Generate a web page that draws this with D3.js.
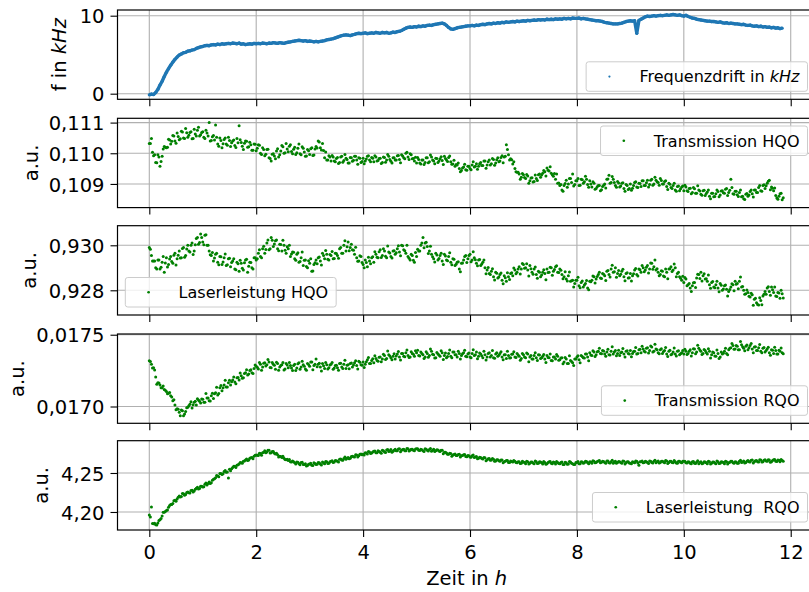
<!DOCTYPE html>
<html><head><meta charset="utf-8">
<script src="https://cdn.jsdelivr.net/npm/d3@7"></script>
<style>
body{margin:0;background:#fff}
svg{display:block}
text{font-family:"DejaVu Sans",sans-serif;fill:#000;white-space:pre}
</style>
</head><body>
<svg id="chart" width="809" height="592"></svg>
<script>
// ---------- DATA ----------
const timeStep = 0.04;     // h between samples of one array
const midOffset = 0.02;    // the "...Mid" arrays are sampled half a step later

const frequenzdrift = [ // kHz, t = 0, 0.04, 0.08 ...
-0.15,-0.05,-0.10,0.15,0.55,1.10,1.60,2.20,2.75,3.20,3.65,4.05,4.40,4.70,4.95,5.10,5.25,5.30,5.45,5.50,5.60,5.65,5.80,5.90,6.00,
6.05,6.15,6.20,6.15,6.25,6.30,6.25,6.35,6.30,6.40,6.35,6.40,6.45,6.40,6.50,6.45,6.40,6.50,6.35,6.40,6.30,6.35,6.40,6.35,6.45,
6.40,6.45,6.40,6.50,6.45,6.40,6.50,6.45,6.55,6.50,6.45,6.55,6.50,6.45,6.55,6.60,6.65,6.70,6.75,6.80,6.85,6.80,6.75,6.80,6.70,
6.75,6.70,6.65,6.70,6.65,6.70,6.75,6.80,6.90,6.95,7.00,7.05,7.15,7.25,7.35,7.45,7.50,7.55,7.50,7.45,7.55,7.60,7.70,7.75,7.70,
7.75,7.80,7.70,7.75,7.80,7.75,7.85,7.80,7.75,7.85,7.80,7.85,7.75,7.80,7.90,7.85,7.95,8.00,8.10,8.25,8.40,8.50,8.55,8.50,8.60,
8.55,8.65,8.60,8.70,8.65,8.75,8.80,8.75,8.85,8.90,8.95,9.00,9.05,8.95,8.75,8.50,8.30,8.25,8.35,8.45,8.50,8.55,8.60,8.65,8.70,
8.70,8.75,8.70,8.80,8.75,8.85,8.90,8.85,8.95,9.00,8.95,9.05,9.00,9.10,9.05,9.15,9.10,9.20,9.15,9.20,9.25,9.20,9.30,9.25,9.30,
9.35,9.30,9.40,9.35,9.40,9.45,9.40,9.50,9.45,9.50,9.45,9.55,9.50,9.55,9.50,9.60,9.55,9.60,9.55,9.65,9.60,9.65,9.60,9.70,9.65,
9.65,9.70,9.60,9.65,9.60,9.55,9.50,9.45,9.40,9.35,9.35,9.30,9.25,9.15,9.10,9.05,9.00,8.95,8.95,8.95,9.00,9.05,9.15,9.25,9.30,
9.35,9.30,9.35,7.75,9.40,9.55,9.70,9.85,9.95,9.90,9.95,10.00,9.95,10.00,10.05,10.00,10.05,10.10,10.05,10.10,10.15,10.10,10.05,10.10,10.00,
9.95,10.05,9.90,9.80,9.70,9.65,9.55,9.50,9.45,9.40,9.35,9.30,9.30,9.25,9.25,9.20,9.15,9.20,9.10,9.05,9.10,9.00,9.05,9.00,8.95,
8.95,8.90,8.85,8.90,8.80,8.75,8.80,8.70,8.65,8.70,8.60,8.65,8.55,8.60,8.50,8.55,8.45,8.50,8.40,8.45,8.35,8.40];

const transmissionHQO = [
.11032,.11048,.10992,.10970,.10995,.10958,.10990,.11022,.11018,.11046,.11030,.11058,.11040,.11066,.11044,.11072,.11050,.11081,.11052,.11068,.11047,.11078,.11056,.11085,.11060,
.11070,.11048,.11066,.11100,.11042,.11058,.11092,.11030,.11050,.11018,.11045,.11030,.11052,.11022,.11040,.11025,.11048,.11090,.11035,.11012,.11040,.11020,.11036,.11010,.11030,
.11008,.11028,.11000,.11018,.10992,.11012,.10985,.10975,.10998,.10982,.11015,.10995,.11025,.11000,.11032,.11005,.11028,.10998,.11020,.11002,.11030,.10995,.11016,.10990,.11012,
.10996,.11018,.10994,.11022,.11040,.11018,.11032,.10985,.10978,.10992,.10975,.10988,.10972,.10986,.10970,.10990,.10976,.10984,.10968,.10986,.10974,.10990,.10978,.10985,.10970,
.10984,.10975,.10990,.10978,.10986,.10972,.10988,.10976,.10984,.10970,.10986,.10978,.10990,.10974,.10985,.10978,.10992,.10980,.10995,.10985,.11000,.10988,.10998,.10982,.10975,
.10968,.10980,.10965,.10978,.10970,.10985,.10972,.10988,.10975,.10984,.10970,.10982,.10976,.10990,.10978,.10986,.10972,.10965,.10958,.10962,.10950,.10944,.10955,.10946,.10958,
.10950,.10962,.10955,.10966,.10958,.10970,.10960,.10975,.10962,.10978,.10966,.10980,.10968,.10985,.10975,.10992,.10988,.11028,.10995,.10982,.10965,.10950,.10938,.10932,.10922,
.10930,.10918,.10926,.10910,.10920,.10908,.10918,.10930,.10922,.10935,.10940,.10952,.10942,.10935,.10925,.10915,.10902,.10895,.10880,.10895,.10912,.10900,.10918,.10932,.10898,
.10910,.10895,.10915,.10902,.10925,.10898,.10910,.10890,.10902,.10885,.10895,.10878,.10892,.10900,.10915,.10928,.10905,.10915,.10895,.10908,.10890,.10902,.10885,.10898,.10882,
.10900,.10886,.10905,.10890,.10902,.10892,.10910,.10895,.10912,.10898,.10915,.10900,.10912,.10905,.10918,.10900,.10908,.10892,.10902,.10888,.10895,.10880,.10892,.10878,.10890,
.10878,.10890,.10875,.10886,.10872,.10884,.10870,.10880,.10866,.10878,.10862,.10874,.10860,.10870,.10858,.10868,.10875,.10864,.10878,.10870,.10885,.10872,.10915,.10868,.10876,
.10865,.10872,.10858,.10852,.10866,.10860,.10875,.10868,.10880,.10872,.10888,.10878,.10895,.10885,.10902,.10912,.10890,.10878,.10862,.10850,.10868,.10848];
const transmissionHQOMid = [
.11032,.11003,.10995,.10969,.10988,.10973,.11014,.11020,.11020,.11043,.11039,.11056,.11033,.11055,.11047,.11069,.11048,.11067,.11059,.11070,.11048,.11063,.11075,.11056,.11068,
.11052,.11075,.11056,.11040,.11054,.11043,.11052,.11023,.11042,.11031,.11050,.11026,.11042,.11034,.11043,.11019,.11034,.11044,.11023,.11033,.11039,.11021,.11028,.11010,.11029,
.11016,.11026,.10996,.11012,.10997,.11013,.10983,.10997,.10991,.11007,.10988,.11007,.11021,.11002,.11014,.11023,.11006,.11013,.10996,.11016,.10998,.11021,.11004,.10991,.11008,
.11015,.10993,.11014,.11017,.11037,.11011,.11009,.11004,.10978,.10988,.10993,.10975,.10983,.10967,.10988,.10971,.10996,.10980,.10968,.10985,.10977,.10990,.10964,.10984,.10973,
.10966,.10981,.10992,.10972,.10984,.10992,.10975,.10983,.10967,.10988,.10971,.10996,.10980,.10968,.10985,.10978,.10993,.10969,.10991,.10982,.11003,.10980,.10995,.10983,.10987,
.10986,.10968,.10978,.10963,.10985,.10969,.10994,.10978,.10966,.10983,.10975,.10989,.10963,.10983,.10973,.10991,.10964,.10977,.10963,.10968,.10940,.10952,.10964,.10945,.10958,
.10946,.10972,.10958,.10948,.10966,.10960,.10975,.10951,.10972,.10962,.10983,.10961,.10979,.10972,.10986,.10969,.10990,.11012,.10978,.10979,.10972,.10940,.10938,.10915,.10934,
.10921,.10931,.10902,.10919,.10906,.10929,.10911,.10932,.10929,.10944,.10926,.10945,.10956,.10930,.10934,.10932,.10903,.10898,.10876,.10901,.10889,.10918,.10905,.10893,.10910,
.10918,.10896,.10914,.10907,.10915,.10889,.10900,.10907,.10883,.10891,.10895,.10881,.10896,.10887,.10916,.10902,.10924,.10905,.10889,.10903,.10893,.10904,.10876,.10895,.10885,
.10879,.10895,.10907,.10888,.10901,.10910,.10895,.10904,.10890,.10912,.10896,.10922,.10907,.10896,.10911,.10900,.10910,.10882,.10899,.10885,.10902,.10876,.10893,.10884,.10893,
.10896,.10878,.10885,.10868,.10888,.10870,.10894,.10877,.10863,.10879,.10869,.10880,.10852,.10870,.10859,.10880,.10858,.10877,.10871,.10883,.10862,.10879,.10888,.10866,.10876,
.10859,.10880,.10860,.10849,.10869,.10864,.10880,.10857,.10880,.10872,.10895,.10876,.10897,.10894,.10909,.10881,.10886,.10887,.10854,.10860,.10870,.10855];

const laserleistungHQO = [
.92990,.92955,.92930,.92900,.92935,.92895,.92925,.92880,.92945,.92915,.92950,.92920,.92965,.92940,.92975,.92945,.92990,.92955,.93000,.92970,.93010,.92975,.93030,.93005,.93050,
.93015,.93045,.93000,.92975,.92955,.92930,.92960,.92925,.92950,.92915,.92945,.92910,.92940,.92905,.92930,.92895,.92925,.92885,.92920,.92890,.92935,.92880,.92925,.92900,.92945,
.92935,.92965,.92950,.92985,.92965,.93010,.92980,.93035,.92995,.93020,.92985,.93005,.92975,.93000,.92965,.92985,.92950,.92970,.92940,.92960,.92925,.92945,.92910,.92935,.92900,
.92920,.92885,.92915,.92935,.92945,.92930,.92965,.92940,.92960,.92935,.92955,.92940,.92965,.92955,.92985,.92965,.93000,.92975,.93015,.92990,.92980,.92960,.92945,.92930,.92950,
.92915,.92935,.92905,.92930,.92945,.92925,.92960,.92945,.92980,.92955,.92975,.92945,.92970,.92950,.92975,.92960,.92985,.92970,.93000,.92980,.92965,.92950,.92935,.92955,.92925,
.92950,.92975,.93000,.93035,.93010,.92995,.92975,.92960,.92940,.92965,.92935,.92955,.92930,.92960,.92935,.92950,.92925,.92940,.92910,.92925,.92895,.92920,.92935,.92955,.92940,
.92960,.92935,.92945,.92920,.92935,.92910,.92925,.92900,.92890,.92875,.92885,.92860,.92880,.92855,.92870,.92845,.92865,.92840,.92860,.92875,.92865,.92890,.92880,.92905,.92895,
.92915,.92900,.92890,.92910,.92880,.92895,.92870,.92885,.92860,.92880,.92875,.92895,.92880,.92900,.92885,.92905,.92880,.92895,.92870,.92860,.92850,.92865,.92840,.92845,.92830,
.92845,.92820,.92835,.92815,.92830,.92810,.92840,.92845,.92860,.92850,.92870,.92855,.92875,.92865,.92885,.92870,.92895,.92880,.92900,.92875,.92865,.92885,.92860,.92875,.92855,
.92875,.92865,.92890,.92870,.92895,.92880,.92900,.92890,.92910,.92895,.92920,.92905,.92890,.92880,.92870,.92885,.92860,.92880,.92895,.92905,.92890,.92900,.92875,.92860,.92845,
.92835,.92850,.92825,.92810,.92820,.92835,.92855,.92870,.92880,.92865,.92850,.92840,.92825,.92835,.92815,.92825,.92810,.92830,.92800,.92820,.92805,.92795,.92815,.92825,.92840,
.92830,.92840,.92815,.92800,.92785,.92790,.92770,.92780,.92760,.92745,.92735,.92755,.92775,.92795,.92810,.92795,.92815,.92790,.92775,.92790,.92765,.92785];
const laserleistungHQOMid = [
.92982,.92930,.92930,.92895,.92935,.92902,.92950,.92921,.92903,.92939,.92928,.92956,.92912,.92956,.92943,.92986,.92947,.92984,.92975,.93000,.92959,.93002,.93035,.93012,.93035,
.93002,.93047,.93000,.92958,.92968,.92943,.92965,.92913,.92949,.92926,.92961,.92914,.92942,.92924,.92940,.92891,.92918,.92934,.92898,.92922,.92938,.92907,.92923,.92895,.92945,
.92940,.92980,.92945,.92996,.92981,.93024,.92985,.93022,.93006,.93024,.92976,.93004,.93022,.92978,.92993,.93000,.92961,.92969,.92933,.92967,.92928,.92970,.92934,.92906,.92931,
.92940,.92886,.92922,.92918,.92948,.92912,.92955,.92977,.92938,.92959,.92972,.92941,.92964,.92942,.92990,.92965,.93020,.92994,.92976,.93005,.92978,.92991,.92929,.92954,.92924,
.92900,.92923,.92947,.92918,.92949,.92971,.92947,.92971,.92946,.92985,.92951,.92997,.92966,.92943,.92976,.92967,.92998,.92954,.92998,.92976,.93000,.92942,.92960,.92933,.92968,
.92982,.92975,.93010,.92989,.93013,.92964,.92996,.92949,.92926,.92957,.92941,.92965,.92915,.92952,.92931,.92967,.92914,.92938,.92916,.92927,.92882,.92921,.92950,.92923,.92955,
.92927,.92971,.92936,.92909,.92937,.92917,.92935,.92874,.92901,.92870,.92896,.92846,.92876,.92859,.92877,.92829,.92856,.92878,.92848,.92878,.92899,.92873,.92895,.92872,.92919,
.92898,.92918,.92863,.92896,.92871,.92903,.92853,.92880,.92868,.92891,.92847,.92879,.92902,.92867,.92892,.92909,.92879,.92889,.92851,.92882,.92841,.92881,.92842,.92815,.92845,
.92858,.92811,.92841,.92824,.92843,.92802,.92838,.92864,.92832,.92861,.92880,.92852,.92871,.92844,.92888,.92859,.92911,.92882,.92858,.92888,.92871,.92894,.92842,.92878,.92856,
.92841,.92874,.92897,.92864,.92891,.92910,.92882,.92902,.92877,.92921,.92893,.92935,.92896,.92865,.92887,.92863,.92895,.92851,.92896,.92883,.92917,.92860,.92880,.92854,.92862,
.92857,.92820,.92830,.92795,.92834,.92812,.92871,.92852,.92841,.92874,.92851,.92868,.92809,.92839,.92811,.92840,.92793,.92822,.92806,.92824,.92775,.92803,.92829,.92798,.92827,
.92807,.92859,.92817,.92782,.92801,.92773,.92787,.92734,.92765,.92737,.92767,.92736,.92782,.92782,.92816,.92778,.92802,.92815,.92772,.92788,.92800,.92766];

const transmissionRQO = [
.017318,.017295,.017270,.017205,.017165,.017150,.017130,.017118,.017105,.017092,.017075,.017040,.017010,.016985,.016960,.016975,.016935,.016965,.016995,.017015,.016990,.017030,.017010,.017045,.017025,
.017050,.017030,.017060,.017040,.017075,.017055,.017095,.017080,.017130,.017110,.017150,.017135,.017165,.017150,.017185,.017170,.017200,.017185,.017215,.017200,.017235,.017220,.017250,.017235,.017265,
.017280,.017262,.017295,.017275,.017305,.017290,.017310,.017270,.017295,.017260,.017300,.017275,.017290,.017255,.017300,.017270,.017285,.017250,.017295,.017268,.017305,.017275,.017290,.017262,.017300,
.017280,.017310,.017285,.017330,.017295,.017275,.017300,.017265,.017290,.017270,.017295,.017260,.017285,.017270,.017300,.017275,.017295,.017265,.017290,.017300,.017275,.017305,.017285,.017315,.017290,
.017310,.017295,.017325,.017300,.017320,.017305,.017335,.017315,.017345,.017330,.017355,.017335,.017360,.017340,.017350,.017330,.017365,.017345,.017370,.017350,.017375,.017355,.017345,.017370,.017350,
.017375,.017355,.017380,.017360,.017345,.017370,.017355,.017385,.017360,.017340,.017365,.017350,.017375,.017355,.017340,.017370,.017350,.017380,.017360,.017345,.017370,.017355,.017375,.017350,.017365,
.017345,.017370,.017355,.017380,.017350,.017365,.017340,.017360,.017345,.017375,.017355,.017340,.017365,.017350,.017370,.017345,.017360,.017335,.017355,.017340,.017365,.017345,.017370,.017350,.017335,
.017360,.017340,.017365,.017345,.017330,.017355,.017340,.017360,.017335,.017350,.017330,.017355,.017340,.017320,.017345,.017330,.017350,.017325,.017340,.017310,.017330,.017300,.017320,.017305,.017330,
.017345,.017325,.017355,.017340,.017365,.017345,.017375,.017355,.017380,.017360,.017385,.017370,.017390,.017365,.017380,.017360,.017385,.017365,.017390,.017370,.017355,.017380,.017365,.017385,.017370,
.017390,.017370,.017385,.017365,.017395,.017375,.017400,.017380,.017410,.017390,.017415,.017385,.017400,.017375,.017395,.017370,.017390,.017365,.017385,.017360,.017380,.017365,.017385,.017360,.017375,
.017365,.017385,.017370,.017395,.017375,.017400,.017380,.017405,.017385,.017370,.017390,.017365,.017385,.017360,.017375,.017350,.017370,.017345,.017365,.017385,.017370,.017395,.017410,.017425,.017400,
.017420,.017395,.017430,.017405,.017420,.017395,.017425,.017400,.017415,.017390,.017410,.017385,.017405,.017380,.017400,.017375,.017395,.017370,.017390,.017365,.017385,.017375];
const transmissionRQOMid = [
.017314,.017269,.017255,.017155,.017164,.017130,.017143,.017114,.017089,.017098,.017067,.017047,.016977,.016981,.016935,.016970,.016948,.016991,.017005,.017033,.017012,.017036,.017054,.017037,.017053,
.017029,.017090,.017060,.017039,.017092,.017089,.017134,.017090,.017147,.017130,.017183,.017136,.017183,.017173,.017205,.017158,.017202,.017233,.017196,.017230,.017256,.017227,.017256,.017230,.017289,
.017273,.017307,.017252,.017302,.017282,.017328,.017271,.017307,.017287,.017309,.017253,.017286,.017307,.017262,.017289,.017307,.017268,.017286,.017250,.017298,.017259,.017316,.017280,.017253,.017292,
.017310,.017256,.017295,.017277,.017301,.017247,.017283,.017307,.017262,.017289,.017307,.017268,.017288,.017253,.017302,.017265,.017323,.017288,.017263,.017303,.017289,.017319,.017261,.017308,.017287,
.017271,.017312,.017341,.017300,.017332,.017354,.017320,.017343,.017311,.017364,.017327,.017386,.017352,.017326,.017367,.017351,.017383,.017324,.017370,.017347,.017394,.017341,.017381,.017364,.017389,
.017391,.017352,.017370,.017334,.017382,.017343,.017400,.017364,.017337,.017376,.017358,.017388,.017328,.017373,.017349,.017394,.017340,.017379,.017361,.017385,.017331,.017367,.017391,.017346,.017373,
.017339,.017396,.017360,.017333,.017372,.017354,.017384,.017324,.017369,.017345,.017390,.017336,.017375,.017357,.017381,.017326,.017361,.017384,.017338,.017364,.017381,.017342,.017359,.017322,.017369,
.017344,.017373,.017312,.017356,.017331,.017375,.017320,.017358,.017339,.017362,.017307,.017342,.017365,.017319,.017345,.017362,.017322,.017338,.017298,.017342,.017300,.017353,.017313,.017285,.017330,
.017353,.017305,.017349,.017337,.017366,.017318,.017359,.017389,.017349,.017382,.017405,.017368,.017386,.017350,.017398,.017359,.017416,.017380,.017353,.017392,.017374,.017404,.017344,.017389,.017365,
.017347,.017383,.017411,.017369,.017399,.017420,.017384,.017405,.017373,.017421,.017379,.017434,.017396,.017367,.017403,.017383,.017411,.017349,.017391,.017365,.017408,.017352,.017388,.017368,.017390,
.017399,.017363,.017384,.017352,.017403,.017367,.017427,.017393,.017362,.017397,.017376,.017402,.017338,.017379,.017351,.017393,.017335,.017380,.017371,.017405,.017360,.017405,.017438,.017398,.017425,
.017395,.017452,.017416,.017389,.017428,.017410,.017439,.017375,.017417,.017390,.017432,.017375,.017411,.017390,.017413,.017357,.017391,.017413,.017366,.017391,.017407,.017368];

const laserleistungRQO = [
4.1960,4.2065,4.1850,4.1835,4.1860,4.1900,4.1950,4.1995,4.2020,4.2060,4.2095,4.2110,4.2150,4.2165,4.2205,4.2200,4.2235,4.2225,4.2255,4.2245,4.2280,4.2270,4.2305,4.2295,4.2330,
4.2320,4.2355,4.2345,4.2385,4.2375,4.2420,4.2440,4.2460,4.2495,4.2480,4.2520,4.2510,4.2435,4.2530,4.2570,4.2585,4.2600,4.2615,4.2630,4.2650,4.2665,4.2660,4.2690,4.2700,4.2715,
4.2730,4.2725,4.2750,4.2760,4.2785,4.2770,4.2790,4.2760,4.2775,4.2745,4.2735,4.2715,4.2700,4.2690,4.2670,4.2660,4.2645,4.2655,4.2630,4.2640,4.2620,4.2635,4.2610,4.2620,4.2595,
4.2615,4.2600,4.2630,4.2610,4.2635,4.2615,4.2640,4.2620,4.2645,4.2625,4.2650,4.2635,4.2660,4.2650,4.2675,4.2665,4.2685,4.2675,4.2700,4.2690,4.2715,4.2705,4.2730,4.2720,4.2745,
4.2740,4.2760,4.2745,4.2770,4.2755,4.2780,4.2760,4.2785,4.2765,4.2790,4.2770,4.2795,4.2775,4.2800,4.2780,4.2805,4.2785,4.2810,4.2790,4.2805,4.2785,4.2810,4.2790,4.2805,4.2785,
4.2810,4.2790,4.2805,4.2785,4.2810,4.2790,4.2800,4.2780,4.2805,4.2785,4.2795,4.2775,4.2790,4.2765,4.2755,4.2740,4.2750,4.2730,4.2745,4.2725,4.2740,4.2720,4.2735,4.2710,4.2725,
4.2705,4.2720,4.2700,4.2710,4.2690,4.2700,4.2680,4.2695,4.2670,4.2685,4.2665,4.2675,4.2655,4.2670,4.2650,4.2665,4.2645,4.2660,4.2635,4.2655,4.2640,4.2650,4.2630,4.2645,4.2625,
4.2640,4.2620,4.2645,4.2625,4.2640,4.2620,4.2645,4.2625,4.2640,4.2615,4.2635,4.2620,4.2645,4.2625,4.2640,4.2615,4.2635,4.2620,4.2640,4.2610,4.2630,4.2615,4.2640,4.2620,4.2610,
4.2635,4.2620,4.2645,4.2625,4.2650,4.2630,4.2645,4.2625,4.2650,4.2635,4.2655,4.2630,4.2650,4.2635,4.2655,4.2630,4.2645,4.2625,4.2650,4.2635,4.2645,4.2625,4.2650,4.2630,4.2645,
4.2625,4.2645,4.2630,4.2650,4.2598,4.2645,4.2630,4.2650,4.2635,4.2655,4.2635,4.2650,4.2630,4.2655,4.2635,4.2650,4.2630,4.2655,4.2635,4.2650,4.2630,4.2645,4.2625,4.2650,4.2630,
4.2650,4.2630,4.2645,4.2625,4.2645,4.2625,4.2640,4.2620,4.2645,4.2625,4.2640,4.2620,4.2645,4.2625,4.2640,4.2620,4.2645,4.2625,4.2640,4.2620,4.2645,4.2630,4.2650,4.2630,4.2645,
4.2625,4.2650,4.2635,4.2655,4.2635,4.2660,4.2640,4.2665,4.2645,4.2660,4.2640,4.2665,4.2645,4.2670,4.2650,4.2665,4.2645,4.2670,4.2650,4.2665,4.2645,4.2660];
const laserleistungRQOMid = [
4.1936,4.1853,4.1854,4.1832,4.1891,4.1917,4.1997,4.2005,4.2024,4.2082,4.2096,4.2144,4.2138,4.2190,4.2191,4.2236,4.2216,4.2249,4.2248,4.2275,4.2255,4.2290,4.2316,4.2301,4.2330,
4.2322,4.2372,4.2365,4.2364,4.2407,4.2426,4.2469,4.2453,4.2495,4.2491,4.2533,4.2514,4.2549,4.2553,4.2588,4.2570,4.2607,4.2636,4.2624,4.2655,4.2679,4.2668,4.2694,4.2682,4.2726,
4.2726,4.2754,4.2728,4.2765,4.2759,4.2790,4.2756,4.2774,4.2753,4.2753,4.2705,4.2712,4.2714,4.2674,4.2677,4.2674,4.2641,4.2644,4.2615,4.2637,4.2607,4.2637,4.2610,4.2590,4.2612,
4.2625,4.2596,4.2622,4.2613,4.2631,4.2602,4.2628,4.2646,4.2623,4.2643,4.2658,4.2640,4.2657,4.2642,4.2678,4.2662,4.2704,4.2690,4.2682,4.2712,4.2708,4.2734,4.2706,4.2740,4.2733,
4.2730,4.2757,4.2774,4.2749,4.2768,4.2782,4.2761,4.2774,4.2754,4.2784,4.2763,4.2800,4.2781,4.2767,4.2793,4.2785,4.2806,4.2773,4.2800,4.2786,4.2813,4.2781,4.2804,4.2793,4.2808,
4.2811,4.2788,4.2799,4.2777,4.2805,4.2781,4.2815,4.2793,4.2776,4.2798,4.2781,4.2792,4.2748,4.2767,4.2741,4.2753,4.2716,4.2737,4.2725,4.2738,4.2704,4.2724,4.2737,4.2708,4.2722,
4.2702,4.2732,4.2705,4.2684,4.2702,4.2686,4.2699,4.2658,4.2681,4.2663,4.2686,4.2650,4.2670,4.2656,4.2668,4.2632,4.2650,4.2661,4.2633,4.2648,4.2659,4.2635,4.2645,4.2622,4.2651,
4.2635,4.2652,4.2616,4.2642,4.2627,4.2654,4.2621,4.2644,4.2632,4.2647,4.2613,4.2635,4.2648,4.2620,4.2636,4.2646,4.2622,4.2633,4.2610,4.2638,4.2613,4.2647,4.2625,4.2610,4.2634,
4.2647,4.2617,4.2641,4.2632,4.2648,4.2617,4.2640,4.2656,4.2630,4.2648,4.2660,4.2638,4.2648,4.2626,4.2654,4.2629,4.2664,4.2641,4.2624,4.2647,4.2635,4.2653,4.2616,4.2643,4.2628,
4.2617,4.2639,4.2654,4.2627,4.2644,4.2655,4.2633,4.2644,4.2623,4.2652,4.2629,4.2664,4.2643,4.2627,4.2651,4.2640,4.2659,4.2623,4.2649,4.2634,4.2660,4.2627,4.2649,4.2637,4.2651,
4.2652,4.2629,4.2640,4.2618,4.2647,4.2623,4.2658,4.2636,4.2620,4.2643,4.2632,4.2650,4.2614,4.2641,4.2627,4.2654,4.2622,4.2645,4.2634,4.2649,4.2616,4.2638,4.2652,4.2625,4.2641,
4.2625,4.2662,4.2642,4.2628,4.2652,4.2643,4.2663,4.2628,4.2656,4.2643,4.2671,4.2640,4.2664,4.2654,4.2670,4.2638,4.2660,4.2674,4.2647,4.2663,4.2674,4.2651];

const xTicks = [0, 2, 4, 6, 8, 10, 12];
const xTickLabels = ["0", "2", "4", "6", "8", "10", "12"];
const freqTicks = [0, 10];              const freqTickLabels = ["0", "10"];
const tHQOTicks = [0.109, 0.110, 0.111]; const tHQOTickLabels = ["0,109", "0,110", "0,111"];
const lHQOTicks = [0.928, 0.930];       const lHQOTickLabels = ["0,928", "0,930"];
const tRQOTicks = [0.0170, 0.0175];     const tRQOTickLabels = ["0,0170", "0,0175"];
const lRQOTicks = [4.20, 4.25];         const lRQOTickLabels = ["4,20", "4,25"];
const legendLabels = ["Frequenzdrift in $kHz$", "Transmission HQO", "Laserleistung HQO", "Transmission RQO", "Laserleistung  RQO"];
const yLabels = ["f in $kHz$", "a.u.", "a.u.", "a.u.", "a.u."];
const xLabel = "Zeit in $h$";

// ---------- LAYOUT ----------
const svg = d3.select("#chart");
const axLeft = 117.5, axRight = 816;
const panelTops = [10, 118.3, 225.7, 334, 440.7];
const panelH = 89.3;
const tickFont = 19.5, legendFont = 16;
const x = d3.scaleLinear().domain([-0.595, 12.473]).range([axLeft, axRight]);

const panels = [
  {series: [frequenzdrift], ticks: freqTicks, tickLabels: freqTickLabels, domain: [-0.72, 10.73], color: "#1f77b4", legend: "lower right", ylx: 59, ylDy: "0.38em", band: true},
  {series: [transmissionHQO, transmissionHQOMid], ticks: tHQOTicks, tickLabels: tHQOTickLabels, domain: [0.108228, 0.111140], color: "#008000", legend: "upper right", ylx: 32.5, ylDy: "0.27em"},
  {series: [laserleistungHQO, laserleistungHQOMid], ticks: lHQOTicks, tickLabels: lHQOTickLabels, domain: [0.926902, 0.930871], color: "#008000", legend: "lower left", ylx: 31, ylDy: "0.27em"},
  {series: [transmissionRQO, transmissionRQOMid], ticks: tRQOTicks, tickLabels: tRQOTickLabels, domain: [0.016883, 0.017505], color: "#008000", legend: "lower right", ylx: 19, ylDy: "0.27em"},
  {series: [laserleistungRQO, laserleistungRQOMid], ticks: lRQOTicks, tickLabels: lRQOTickLabels, domain: [4.1769, 4.2914], color: "#008000", legend: "lower right", ylx: 43, ylDy: "0.27em"}
];

function mathText(sel, str) {
  str.split("$").forEach((part, i) => {
    if (!part) return;
    const ts = sel.append("tspan").text(part);
    if (i % 2 === 1) ts.attr("font-style", "italic");
  });
  return sel;
}

const defs = svg.append("defs");

panels.forEach((p, i) => {
  const top = panelTops[i], bot = top + panelH;
  const y = d3.scaleLinear().domain(p.domain).range([bot, top]);
  const g = svg.append("g");
  defs.append("clipPath").attr("id", "clip" + i)
    .append("rect").attr("x", axLeft).attr("y", top).attr("width", axRight - axLeft).attr("height", panelH);

  // grid
  const grid = g.append("g").attr("stroke", "#b0b0b0").attr("stroke-width", 1.1);
  grid.selectAll("line.gx").data(xTicks).join("line").attr("class", "gx")
    .attr("x1", d => x(d)).attr("x2", d => x(d)).attr("y1", top).attr("y2", bot);
  grid.selectAll("line.gy").data(p.ticks).join("line").attr("class", "gy")
    .attr("x1", axLeft).attr("x2", axRight).attr("y1", d => y(d)).attr("y2", d => y(d));

  // data
  const dg = g.append("g").attr("clip-path", `url(#clip${i})`);
  let pts = [];
  p.series.forEach((arr, s) => {
    arr.forEach((v, k) => pts.push({t: s * midOffset + k * timeStep, v}));
  });
  pts.sort((a, b) => a.t - b.t);
  if (p.band) {
    dg.append("path").datum(pts)
      .attr("d", d3.line().x(d => x(d.t)).y(d => y(d.v)))
      .attr("fill", "none").attr("stroke", p.color).attr("stroke-width", 3.4).attr("stroke-linejoin", "round");
  }
  dg.selectAll("circle").data(pts).join("circle")
    .attr("cx", d => x(d.t)).attr("cy", d => y(d.v))
    .attr("r", p.band ? 1.6 : 1.5).attr("fill", p.color);

  // spines
  g.append("rect").attr("x", axLeft).attr("y", top).attr("width", axRight - axLeft).attr("height", panelH)
    .attr("fill", "none").attr("stroke", "#000").attr("stroke-width", 1.2);

  // y axis
  const ya = g.append("g").attr("transform", `translate(${axLeft},0)`)
    .call(d3.axisLeft(y).tickValues(p.ticks).tickFormat((d, j) => p.tickLabels[j]).tickSize(7).tickPadding(6));
  ya.select(".domain").remove();
  ya.selectAll(".tick line").attr("stroke", "#000").attr("stroke-width", 1.1);
  ya.selectAll(".tick text").attr("font-family", "DejaVu Sans").attr("font-size", tickFont).attr("dy", "0.37em").attr("fill", "#000");

  // x axis
  const last = i === panels.length - 1;
  const xa = g.append("g").attr("transform", `translate(0,${bot})`)
    .call(d3.axisBottom(x).tickValues(xTicks).tickFormat((d, j) => last ? xTickLabels[j] : "").tickSize(7).tickPadding(8.5));
  xa.select(".domain").remove();
  xa.selectAll(".tick line").attr("stroke", "#000").attr("stroke-width", 1.1);
  xa.selectAll(".tick text").attr("font-family", "DejaVu Sans").attr("font-size", tickFont).attr("fill", "#000");

  // y label
  const yl = g.append("text").attr("transform", `translate(${p.ylx},${top + panelH / 2}) rotate(-90)`)
    .attr("text-anchor", "middle").attr("dy", p.ylDy).attr("font-size", tickFont);
  mathText(yl, yLabels[i]);

  // legend
  const lg = g.append("g");
  const box = lg.append("rect");
  const lt = lg.append("text").attr("font-size", legendFont).attr("x", 0).attr("y", 0);
  mathText(lt, legendLabels[i]);
  const tw = lt.node().getComputedTextLength();
  const bw = 53.3 + tw + 8, bh = 29.5;
  let bx, by;
  if (p.legend === "lower right") { bx = axRight - 8.5 - bw; by = bot - 8 - bh; }
  else if (p.legend === "upper right") { bx = axRight - 8.5 - bw; by = top + 7.7; }
  else { bx = axLeft + 7.8; by = bot - 8 - bh; }
  box.attr("x", bx).attr("y", by).attr("width", bw).attr("height", bh).attr("rx", 2.5)
    .attr("fill", "#fff").attr("fill-opacity", 0.8).attr("stroke", "#cccccc").attr("stroke-width", 1);
  lt.attr("x", bx + 53.3).attr("y", by + bh / 2 + 5.8);
  lg.append("circle").attr("cx", bx + 23.3).attr("cy", by + bh / 2).attr("r", p.band ? 1.1 : 1.35).attr("fill", p.color);
});

// x label
const xl = svg.append("text").attr("x", (axLeft + axRight) / 2).attr("y", 585)
  .attr("text-anchor", "middle").attr("font-size", tickFont);
mathText(xl, xLabel);
</script>
</body></html>
